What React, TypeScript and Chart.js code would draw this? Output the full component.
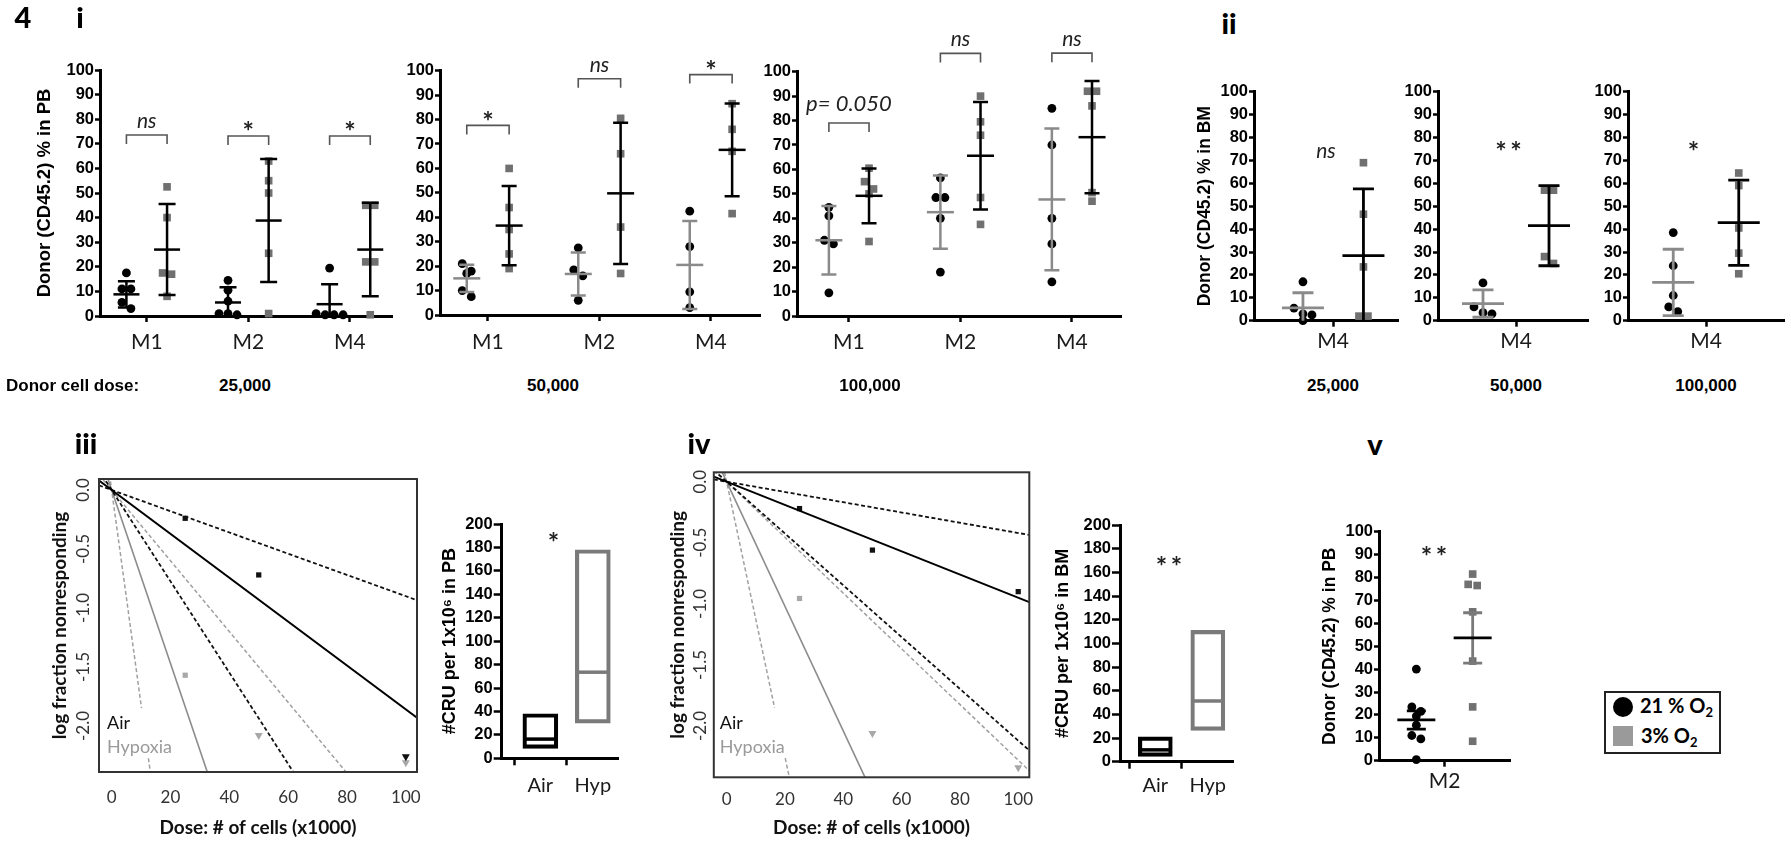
import React, { useEffect, useRef } from 'react';
import { Chart, registerables } from 'chart.js';

Chart.register(...registerables);

/* ========================= DATA ========================= */
// Panel i — Donor (CD45.2) % in PB per month, 21% O2 (circles) vs 3% O2 (squares)
const monthLabels = ['M1', 'M2', 'M4'];
const doseLabels = ['25,000', '50,000', '100,000'];

const pb25Normoxia = [[17.5, 11, 11, 5.5, 3], [14.5, 10.5, 6, 1, 1, 0.5], [19.5, 1, 0.5, 0.5, 0.5]];
const pb25Hypoxia = [[52.5, 40, 17.5, 17, 8], [63, 55, 50, 25.5, 1], [45, 45, 22, 22, 0.5]];
const pb25NormMean = [8.8, 5.5, 4.8];
const pb25NormSD = [5.3, 6.2, 8.1];
const pb25HypMean = [27, 38.8, 27];
const pb25HypSD = [18.5, 25, 19];
const pb25Sig = ['ns', '*', '*'];
const pb25SigLevel = [73.6, 73.2, 73.2];

const pb50Normoxia = [[21, 18, 17, 10, 7.5], [27.5, 18.5, 16, 6], [42.5, 28, 9.5, 3]];
const pb50Hypoxia = [[60, 44, 35, 25, 19], [80.5, 66, 36, 17], [86.5, 76, 67, 41.5]];
const pb50NormMean = [15, 16.8, 20.5];
const pb50NormSD = [5.6, 8.8, 18];
const pb50HypMean = [36.6, 49.8, 67.6];
const pb50HypSD = [16.2, 28.9, 19];
const pb50Sig = ['*', 'ns', '*'];
const pb50SigLevel = [77.6, 96.7, 98.4];

const pb100Normoxia = [[44.5, 41, 31, 29.5, 9.5], [56.5, 48.5, 48.5, 40, 18], [85, 70, 40, 29.5, 14]];
const pb100Hypoxia = [[60.5, 55, 52, 50, 30.5], [90, 79.5, 74, 48.5, 37.5], [92, 92, 86, 50.5, 47]];
const pb100NormMean = [31, 42.5, 47.7];
const pb100NormSD = [14, 15, 29];
const pb100HypMean = [49.2, 65.6, 73.2];
const pb100HypSD = [11.2, 22, 23];
const pb100Sig = ['p= 0.050', 'ns', 'ns'];
const pb100SigLevel = [79, 107.5, 107.6];

// Panel ii — Donor (CD45.2) % in BM at M4, one chart per dose
const bmMonth = ['M4'];
const bmNormoxia = [[17, 5.5, 3, 2.5, 0], [16.5, 6, 3.5, 3], [38.5, 24, 11, 6, 4]];
const bmHypoxia = [[69, 46.5, 23.5, 2, 2], [57, 57, 28, 25], [64.5, 59, 40.5, 29.5, 20.5]];
const bmNormMean = [5.6, 7.5, 16.7];
const bmNormSD = [6.6, 6, 14.5];
const bmHypMean = [28.4, 41.5, 42.8];
const bmHypSD = [29.2, 17.5, 18.6];
const bmSig = ['ns', '**', '*'];
const bmSigLevel = [74, 76.4, 76.4];

// Panels iii / iv — ELDA limiting dilution (dose in x1000 cells)
const eldaDoses = [25, 50, 100];
const eldaGroups = ['Air', 'Hypoxia'];
const eldaYTicks = [0, -0.5, -1, -1.5, -2];
const pbAirLogFrac = [-0.24, -0.72, -2.26];
const pbHypLogFrac = [-1.57, -2.08, -2.31];
const pbAirAllResponded = [false, false, true];
const pbHypAllResponded = [false, true, true];
const bmAirLogFrac = [-0.22, -0.56, -0.9];
const bmHypLogFrac = [-0.956, -2.06, -2.34];
const bmAirAllResponded = [false, false, false];
const bmHypAllResponded = [false, true, true];
// fitted CRU frequency per 1e6 cells: [estimate, lower CI, upper CI]
const pbAirFit = [18.6, 9.0, 38.7];
const pbHypFit = [73.5, 30, 182];
const bmAirFit = [9.5, 4.2, 21.2];
const bmHypFit = [51, 22.8, 112.6];

// CRU per 1x10^6 boxes: [lower, estimate, upper]
const cruGroups = ['Air', 'Hyp'];
const cruPB = [[8.5, 16.4, 38], [30, 73.5, 178]];
const cruBM = [[4.5, 10, 21], [26.5, 51.3, 111]];
const cruPBSig = '*';
const cruBMSig = '**';

// Panel v — Donor % in PB at M2 (mean ± SEM)
const vMonth = ['M2'];
const vNormoxia = [[40, 23.5, 21.5, 19.5, 15.5, 11, 9.5, 0.5]];
const vHypoxia = [[81.5, 77, 76.5, 65, 43.5, 23.5, 8.5]];
const vNormMean = [17.8];
const vNormSEM = [4];
const vHypMean = [53.6];
const vHypSEM = [11];
const vSig = '**';

const oxygenGroups = ['21 %', '3%'];

/* ========================= STYLE ========================= */
const HUM = 'Lato, "Open Sans", "DejaVu Sans", sans-serif';
const ARIALB = '"Liberation Sans", Arial, sans-serif';
const SQUARE_GREY = '#707070';
const ERR_GREY = '#8a8a8a';

type Box = {
  cl: number; ct: number; cw: number; ch: number;
  al: number; at: number; ar: number; ab: number;
  ytX?: number; ytSize?: number; xtY?: number; xtSize?: number;
};

function frameLayout(b: Box) {
  const ylh = (b.ytSize ?? 0) * 1.2;
  const padL = b.ytX !== undefined ? b.ytX - ylh / 2 - b.cl : 0;
  const yW = b.al - b.cl - padL;
  const xlh = (b.xtSize ?? 0) * 1.2;
  const bottom = b.ct + b.ch;
  const padB = b.xtY !== undefined ? bottom - (b.xtY + xlh / 2) : 0;
  const xH = bottom - padB - b.ab;
  return { padding: { left: padL, top: b.at - b.ct, right: b.cl + b.cw - b.ar, bottom: padB }, yW, xH };
}

function swarm(vals: number[], pxY: number, pxX: number, dot = 9): number[] {
  const idx = vals.map((_, i) => i).sort((a, b) => vals[b] - vals[a]);
  const out = new Array(vals.length).fill(0);
  let row: number[] = [];
  const flush = () => {
    row.forEach((i, k) => { out[i] = ((k - (row.length - 1) / 2) * dot) / pxX; });
    row = [];
  };
  for (const i of idx) {
    if (row.length && (vals[row[0]] - vals[i]) * pxY > dot * 0.9) flush();
    row.push(i);
  }
  flush();
  return out;
}

type ErrItem = { x: number; mean: number; err: number; color: string; meanColor: string; meanW: number; capW: number; lw: number };
function errorBarPlugin(items: ErrItem[]) {
  return {
    id: 'errbars',
    afterDatasetsDraw(chart: any) {
      const { ctx, scales } = chart;
      const xs = scales.x, ys = scales.y;
      ctx.save();
      ctx.lineCap = 'butt';
      for (const it of items) {
        const px = xs.getPixelForValue(it.x);
        const hiV = it.mean + it.err, loV = it.mean - it.err;
        const ph = ys.getPixelForValue(Math.min(hiV, ys.max));
        const pl = ys.getPixelForValue(Math.max(loV, ys.min));
        ctx.strokeStyle = it.color;
        ctx.lineWidth = it.lw;
        ctx.beginPath();
        ctx.moveTo(px, ph); ctx.lineTo(px, pl);
        if (hiV <= ys.max) { ctx.moveTo(px - it.capW / 2, ph); ctx.lineTo(px + it.capW / 2, ph); }
        if (loV >= ys.min) { ctx.moveTo(px - it.capW / 2, pl); ctx.lineTo(px + it.capW / 2, pl); }
        ctx.stroke();
        const pm = ys.getPixelForValue(it.mean);
        ctx.strokeStyle = it.meanColor;
        ctx.beginPath();
        ctx.moveTo(px - it.meanW / 2, pm); ctx.lineTo(px + it.meanW / 2, pm);
        ctx.stroke();
      }
      ctx.restore();
    },
  };
}

type Sig = { x?: number; x1?: number; x2?: number; y: number; label: string };
function sigPlugin(items: Sig[]) {
  return {
    id: 'sig',
    afterDraw(chart: any) {
      const { ctx, scales } = chart;
      const xs = scales.x, ys = scales.y;
      ctx.save();
      for (const it of items) {
        const py = ys.getPixelForValue(it.y);
        const star = /^\*+$/.test(it.label);
        const isP = it.label.startsWith('p');
        const size = star ? 27 : isP ? 22 : 21;
        let cx: number, cy: number;
        if (it.x1 !== undefined && it.x2 !== undefined) {
          const a = xs.getPixelForValue(it.x1), b = xs.getPixelForValue(it.x2);
          ctx.strokeStyle = '#555';
          ctx.lineWidth = 1.6;
          ctx.beginPath();
          ctx.moveTo(a, py + 9); ctx.lineTo(a, py); ctx.lineTo(b, py); ctx.lineTo(b, py + 9);
          ctx.stroke();
          cx = (a + b) / 2;
          cy = py - (star ? 10 : isP ? 19 : 14);
        } else {
          cx = xs.getPixelForValue(it.x as number);
          cy = py;
        }
        ctx.font = star ? `bold ${size}px ${HUM}` : `italic ${size}px ${HUM}`;
        ctx.fillStyle = '#222';
        ctx.textAlign = 'center';
        ctx.textBaseline = 'middle';
        const txt = star ? it.label.split('').join('\u2009') : it.label;
        ctx.fillText(txt, cx, cy + (star ? size * 0.25 : 0));
      }
      ctx.restore();
    },
  };
}

function baseOptions(padding: any) {
  return {
    animation: false,
    responsive: false,
    events: [],
    layout: { padding },
    plugins: { legend: { display: false }, tooltip: { enabled: false } },
  };
}

type DotOpts = {
  box: Box; xMin: number; xMax: number; cats: string[]; off: number;
  norm: number[][]; hyp: number[][];
  normMean: number[]; normErr: number[]; hypMean: number[]; hypErr: number[];
  normErrColor: string; normMeanColor: string; hypErrColor: string; hypMeanColor: string;
  meanW: number; capW: number; lw: number;
  yTitle?: string; xPad: number; sig: Sig[];
};

function dotPlot(o: DotOpts) {
  const L = frameLayout(o.box);
  const pxX = (o.box.ar - o.box.al) / (o.xMax - o.xMin);
  const pxY = (o.box.ab - o.box.at) / 100;
  const pts = (groups: number[][], sign: number) =>
    groups.flatMap((vals, ci) => {
      const offs = swarm(vals, pxY, pxX, 9);
      return vals.map((v, k) => ({ x: ci + 1 + sign * o.off + offs[k], y: v }));
    });
  const errItems: ErrItem[] = o.cats.flatMap((_, i) => [
    { x: i + 1 - o.off, mean: o.normMean[i], err: o.normErr[i], color: o.normErrColor, meanColor: o.normMeanColor, meanW: o.meanW, capW: o.capW, lw: o.lw },
    { x: i + 1 + o.off, mean: o.hypMean[i], err: o.hypErr[i], color: o.hypErrColor, meanColor: o.hypMeanColor, meanW: o.meanW, capW: o.capW, lw: o.lw },
  ]);
  const axisGrid = (len: number) => ({
    display: true, drawOnChartArea: false, drawTicks: true, tickLength: len, tickWidth: 2.5, tickColor: '#000',
  });
  return {
    type: 'scatter',
    data: {
      datasets: [
        { data: pts(o.norm, -1), pointStyle: 'circle', pointRadius: 4.4, pointBackgroundColor: '#000', backgroundColor: '#000', pointBorderWidth: 0, borderWidth: 0, clip: false },
        { data: pts(o.hyp, 1), pointStyle: 'rect', pointRadius: 5.4, pointBackgroundColor: SQUARE_GREY, backgroundColor: SQUARE_GREY, pointBorderWidth: 0, borderWidth: 0, clip: false },
      ],
    },
    options: {
      ...baseOptions(L.padding),
      scales: {
        x: {
          type: 'linear', min: o.xMin, max: o.xMax,
          afterBuildTicks: (s: any) => { s.ticks = o.cats.map((_, i) => ({ value: i + 1 })); },
          afterFit: (s: any) => { s.height = L.xH; },
          ticks: { callback: (v: any) => o.cats[Math.round(v) - 1] ?? '', font: { family: HUM, size: 21 }, color: '#1a1a1a', padding: o.xPad, autoSkip: false, maxRotation: 0 },
          grid: axisGrid(6),
          border: { display: true, color: '#000', width: 3 },
        },
        y: {
          type: 'linear', min: 0, max: 100,
          afterFit: (s: any) => { s.width = L.yW; },
          ticks: { stepSize: 10, autoSkip: false, font: { family: ARIALB, size: 16.5, weight: 'bold' }, color: '#000', padding: 1 },
          grid: axisGrid(5),
          border: { display: true, color: '#000', width: 3 },
          title: o.yTitle
            ? { display: true, text: o.yTitle, font: { family: ARIALB, size: o.box.ytSize, weight: 'bold' }, color: '#000', padding: 0 }
            : { display: false },
        },
      },
    },
    plugins: [errorBarPlugin(errItems), sigPlugin(o.sig)],
  };
}

type EldaOpts = {
  box: Box; xMin: number; xMax: number; yMin: number; yMax: number;
  airFit: number[]; hypFit: number[];
  airPts: number[]; hypPts: number[]; airAll: boolean[]; hypAll: boolean[];
  xPad: number; yLabelDx: number; legDx: number; airDy: number; hypDy: number;
};

function eldaPlot(o: EldaOpts) {
  const L = frameLayout(o.box);
  const line = (f: number, color: string, w: number, dash: number[]) => ({
    type: 'line',
    data: [o.xMin, o.xMax].map((x) => ({ x, y: (-f * x) / 1000 })),
    borderColor: color, borderWidth: w, borderDash: dash, pointRadius: 0, tension: 0, fill: false,
  });
  const pts = (vals: number[], all: boolean[], color: string) => ({
    type: 'scatter',
    data: eldaDoses.map((d, i) => ({ x: d, y: vals[i] })),
    pointStyle: all.map((a) => (a ? 'triangle' : 'rect')),
    pointRotation: all.map((a) => (a ? 180 : 0)),
    pointRadius: all.map((a) => (a ? 4.6 : 3.7)),
    pointBackgroundColor: color, backgroundColor: color, pointBorderWidth: 0, borderWidth: 0, clip: false,
  });
  const dash = [4, 2.5];
  const decor = {
    id: 'eldaDecor',
    afterDatasetsDraw(chart: any) {
      const { ctx, chartArea: a } = chart;
      const yA = a.bottom - o.airDy, yH = a.bottom - o.hypDy;
      ctx.save();
      ctx.fillStyle = '#fff';
      ctx.fillRect(a.left + 1.5, yA - 15, 75, yH - yA + 26);
      ctx.font = `18px ${HUM}`;
      ctx.textAlign = 'left';
      ctx.textBaseline = 'middle';
      ctx.fillStyle = '#111';
      ctx.fillText(eldaGroups[0], a.left + o.legDx, yA);
      ctx.fillStyle = '#9a9a9a';
      ctx.fillText(eldaGroups[1], a.left + o.legDx, yH);
      ctx.restore();
    },
    afterDraw(chart: any) {
      const { ctx, chartArea: a, scales } = chart;
      ctx.save();
      ctx.strokeStyle = '#333';
      ctx.lineWidth = 2;
      ctx.strokeRect(a.left, a.top, a.right - a.left, a.bottom - a.top);
      ctx.font = `17px ${HUM}`;
      ctx.fillStyle = '#333';
      ctx.textAlign = 'center';
      ctx.textBaseline = 'middle';
      for (const v of eldaYTicks) {
        const py = scales.y.getPixelForValue(v);
        ctx.save();
        ctx.translate(a.left - o.yLabelDx, py);
        ctx.rotate(-Math.PI / 2);
        ctx.fillText(v.toFixed(1), 0, 0);
        ctx.restore();
      }
      ctx.restore();
    },
  };
  return {
    type: 'scatter',
    data: {
      datasets: [
        line(o.airFit[0], '#000', 2, []),
        line(o.airFit[1], '#111', 1.8, dash),
        line(o.airFit[2], '#111', 1.8, dash),
        line(o.hypFit[0], '#8c8c8c', 1.6, []),
        line(o.hypFit[1], '#a0a0a0', 1.5, dash),
        line(o.hypFit[2], '#a0a0a0', 1.5, dash),
        pts(o.airPts, o.airAll, '#111'),
        pts(o.hypPts, o.hypAll, '#a8a8a8'),
      ],
    },
    options: {
      ...baseOptions(L.padding),
      scales: {
        x: {
          type: 'linear', min: o.xMin, max: o.xMax,
          afterFit: (s: any) => { s.height = L.xH; },
          ticks: { stepSize: 20, includeBounds: false, font: { family: HUM, size: 17 }, color: '#333', padding: o.xPad, maxRotation: 0 },
          grid: { display: false },
          border: { display: false },
          title: { display: true, text: 'Dose: # of cells (x1000)', font: { family: HUM, size: 19, weight: 'bold' }, color: '#111', padding: 0 },
        },
        y: {
          type: 'linear', min: o.yMin, max: o.yMax,
          afterFit: (s: any) => { s.width = L.yW; },
          ticks: { display: false, includeBounds: false },
          grid: { display: false },
          border: { display: false },
          title: { display: true, text: 'log fraction nonresponding', font: { family: HUM, size: 19, weight: 'bold' }, color: '#111', padding: 0 },
        },
      },
    },
    plugins: [decor],
  };
}

type CruOpts = { box: Box; xMin: number; xMax: number; vals: number[][]; yTitle: string; sig: Sig[]; xPad: number; barW: number };

function cruPlot(o: CruOpts) {
  const L = frameLayout(o.box);
  const colors = ['#000', '#7a7a7a'];
  const axisGrid = (len: number) => ({
    display: true, drawOnChartArea: false, drawTicks: true, tickLength: len, tickWidth: 2.5, tickColor: '#000',
  });
  return {
    type: 'bar',
    data: {
      datasets: [
        {
          type: 'bar',
          data: o.vals.map((v, i) => ({ x: i + 1, y: [v[0], v[2]] })),
          backgroundColor: 'rgba(255,255,255,0)', borderColor: colors, borderWidth: 3.5, borderSkipped: false, barThickness: o.barW,
        },
        {
          type: 'line',
          data: o.vals.map((v, i) => ({ x: i + 1, y: v[1] })),
          showLine: false, pointStyle: 'line', pointRadius: o.barW / 2 - 2, pointBorderColor: colors, pointBorderWidth: 3.5, clip: false,
        },
      ],
    },
    options: {
      ...baseOptions(L.padding),
      scales: {
        x: {
          type: 'linear', offset: false, min: o.xMin, max: o.xMax,
          afterBuildTicks: (s: any) => { s.ticks = cruGroups.map((_, i) => ({ value: i + 1 })); },
          afterFit: (s: any) => { s.height = L.xH; },
          ticks: { callback: (v: any) => cruGroups[Math.round(v) - 1] ?? '', font: { family: HUM, size: 20 }, color: '#1a1a1a', padding: o.xPad, autoSkip: false, maxRotation: 0 },
          grid: axisGrid(7),
          border: { display: true, color: '#000', width: 3 },
        },
        y: {
          type: 'linear', min: 0, max: 200,
          afterFit: (s: any) => { s.width = L.yW; },
          ticks: { stepSize: 20, autoSkip: false, font: { family: ARIALB, size: 16.5, weight: 'bold' }, color: '#000', padding: 1 },
          grid: axisGrid(8),
          border: { display: true, color: '#000', width: 3 },
          title: { display: true, text: o.yTitle, font: { family: ARIALB, size: o.box.ytSize, weight: 'bold' }, color: '#000', padding: 0 },
        },
      },
    },
    plugins: [sigPlugin(o.sig)],
  };
}

/* ========================= LAYOUT ========================= */
const boxI1: Box = { cl: 0, ct: 0, cw: 398, ch: 372, al: 100, at: 70, ar: 393, ab: 316, ytX: 45, ytSize: 18.5 };
const boxI2: Box = { cl: 400, ct: 0, cw: 370, ch: 372, al: 440, at: 70.7, ar: 760, ab: 315 };
const boxI3: Box = { cl: 762, ct: 0, cw: 372, ch: 372, al: 797, at: 71.7, ar: 1121, ab: 316 };
const boxII1: Box = { cl: 1180, ct: 40, cw: 225, ch: 332, al: 1254, at: 91.7, ar: 1398, ab: 320.7, ytX: 1205, ytSize: 17.5 };
const boxII2: Box = { cl: 1405, ct: 40, cw: 190, ch: 332, al: 1438, at: 91.7, ar: 1588, ab: 320.7 };
const boxII3: Box = { cl: 1595, ct: 40, cw: 196, ch: 332, al: 1628, at: 91.7, ar: 1784, ab: 320.7 };
const boxIII: Box = { cl: 0, ct: 455, cw: 430, ch: 393, al: 99, at: 479, ar: 417, ab: 772, ytX: 60, ytSize: 19, xtY: 828, xtSize: 19 };
const boxIIIc: Box = { cl: 432, ct: 505, cw: 205, ch: 310, al: 501.7, at: 522.7, ar: 625, ab: 758.3, ytX: 450, ytSize: 18 };
const boxIV: Box = { cl: 640, ct: 450, cw: 400, ch: 398, al: 713.8, at: 472.3, ar: 1029.3, ab: 777.3, ytX: 678, ytSize: 19, xtY: 828, xtSize: 19 };
const boxIVc: Box = { cl: 1042, ct: 505, cw: 210, ch: 310, al: 1120, at: 525, ar: 1240, ab: 761.7, ytX: 1063, ytSize: 18 };
const boxV: Box = { cl: 1305, ct: 500, cw: 215, ch: 320, al: 1379, at: 531.7, ar: 1510, ab: 760.7, ytX: 1330, ytSize: 17.5 };

const bracketSig = (labels: string[], levels: number[], off: number): Sig[] =>
  labels.map((label, i) => ({ x1: i + 1 - off, x2: i + 1 + off, y: levels[i], label }));

type Spec = { key: string; box: Box; make: () => any };

const specs: Spec[] = [
  {
    key: 'i1', box: boxI1,
    make: () => dotPlot({
      box: boxI1, xMin: 0.54, xMax: 3.42, cats: monthLabels, off: 0.2,
      norm: pb25Normoxia, hyp: pb25Hypoxia, normMean: pb25NormMean, normErr: pb25NormSD, hypMean: pb25HypMean, hypErr: pb25HypSD,
      normErrColor: '#000', normMeanColor: '#000', hypErrColor: '#000', hypMeanColor: '#000',
      meanW: 26, capW: 17, lw: 2.5, yTitle: 'Donor (CD45.2) % in PB', xPad: 8,
      sig: bracketSig(pb25Sig, pb25SigLevel, 0.2),
    }),
  },
  {
    key: 'i2', box: boxI2,
    make: () => dotPlot({
      box: boxI2, xMin: 0.57, xMax: 3.44, cats: monthLabels, off: 0.19,
      norm: pb50Normoxia, hyp: pb50Hypoxia, normMean: pb50NormMean, normErr: pb50NormSD, hypMean: pb50HypMean, hypErr: pb50HypSD,
      normErrColor: ERR_GREY, normMeanColor: ERR_GREY, hypErrColor: '#000', hypMeanColor: '#000',
      meanW: 27, capW: 15, lw: 2.5, xPad: 8.5,
      sig: bracketSig(pb50Sig, pb50SigLevel, 0.19),
    }),
  },
  {
    key: 'i3', box: boxI3,
    make: () => dotPlot({
      box: boxI3, xMin: 0.534, xMax: 3.44, cats: monthLabels, off: 0.18,
      norm: pb100Normoxia, hyp: pb100Hypoxia, normMean: pb100NormMean, normErr: pb100NormSD, hypMean: pb100HypMean, hypErr: pb100HypSD,
      normErrColor: ERR_GREY, normMeanColor: ERR_GREY, hypErrColor: '#000', hypMeanColor: '#000',
      meanW: 27, capW: 15, lw: 2.5, xPad: 8,
      sig: bracketSig(pb100Sig, pb100SigLevel, 0.18),
    }),
  },
  ...[boxII1, boxII2, boxII3].map((box, d) => ({
    key: 'ii' + d, box,
    make: () => dotPlot({
      box, xMin: [0.45, 0.48, 0.5][d], xMax: [1.45, 1.48, 1.5][d], cats: bmMonth, off: [0.21, 0.22, 0.21][d],
      norm: [bmNormoxia[d]], hyp: [bmHypoxia[d]], normMean: [bmNormMean[d]], normErr: [bmNormSD[d]], hypMean: [bmHypMean[d]], hypErr: [bmHypSD[d]],
      normErrColor: ERR_GREY, normMeanColor: ERR_GREY, hypErrColor: '#000', hypMeanColor: '#000',
      meanW: 42, capW: 21, lw: 2.8, yTitle: d === 0 ? 'Donor (CD45.2) % in BM' : undefined, xPad: 2.4,
      sig: [{ x: [0.95, 0.95, 0.92][d], y: bmSigLevel[d], label: bmSig[d] }],
    }),
  })),
  {
    key: 'iii', box: boxIII,
    make: () => eldaPlot({
      box: boxIII, xMin: -4.3, xMax: 103.8, yMin: -2.39, yMax: 0.093,
      airFit: pbAirFit, hypFit: pbHypFit, airPts: pbAirLogFrac, hypPts: pbHypLogFrac,
      airAll: pbAirAllResponded, hypAll: pbHypAllResponded,
      xPad: 7.8, yLabelDx: 15.7, legDx: 8, airDy: 49, hypDy: 25,
    }),
  },
  {
    key: 'iiic', box: boxIIIc,
    make: () => cruPlot({
      box: boxIIIc, xMin: 0.263, xMax: 2.48, vals: cruPB, yTitle: '#CRU per 1x10⁶ in PB',
      sig: [{ x: 1.25, y: 189.5, label: cruPBSig }], xPad: 8, barW: 35,
    }),
  },
  {
    key: 'iv', box: boxIV,
    make: () => eldaPlot({
      box: boxIV, xMin: -4.4, xMax: 103.8, yMin: -2.42, yMax: 0.077,
      airFit: bmAirFit, hypFit: bmHypFit, airPts: bmAirLogFrac, hypPts: bmHypLogFrac,
      airAll: bmAirAllResponded, hypAll: bmHypAllResponded,
      xPad: 4.2, yLabelDx: 13.1, legDx: 6, airDy: 54.6, hypDy: 30.6,
    }),
  },
  {
    key: 'ivc', box: boxIVc,
    make: () => cruPlot({
      box: boxIVc, xMin: 0.327, xMax: 2.49, vals: cruBM, yTitle: '#CRU per 1x10⁶ in BM',
      sig: [{ x: 1.26, y: 170, label: cruBMSig }], xPad: 4.5, barW: 34,
    }),
  },
  {
    key: 'v', box: boxV,
    make: () => dotPlot({
      box: boxV, xMin: 0.5, xMax: 1.5, cats: vMonth, off: 0.215,
      norm: vNormoxia, hyp: vHypoxia, normMean: vNormMean, normErr: vNormSEM, hypMean: vHypMean, hypErr: vHypSEM,
      normErrColor: '#000', normMeanColor: '#000', hypErrColor: '#7a7a7a', hypMeanColor: '#000',
      meanW: 38, capW: 19, lw: 2.8, yTitle: 'Donor (CD45.2) % in PB', xPad: 1.7,
      sig: [{ x: 0.92, y: 91.7, label: vSig }],
    }),
  },
];

/* ========================= COMPONENTS ========================= */
function ChartCanvas({ spec }: { spec: Spec }) {
  const ref = useRef<HTMLCanvasElement | null>(null);
  useEffect(() => {
    if (!ref.current) return;
    const chart = new Chart(ref.current, spec.make());
    return () => chart.destroy();
  }, []);
  const b = spec.box;
  return (
    <canvas
      ref={ref}
      width={b.cw}
      height={b.ch}
      style={{ position: 'absolute', left: b.cl, top: b.ct, width: b.cw, height: b.ch }}
    />
  );
}

function Txt(props: { x: number; y: number; size: number; children: any; weight?: string; family?: string; align?: string; color?: string }) {
  const { x, y, size, children, weight = 'normal', family = HUM, align = 'center', color = '#000' } = props;
  const tx = align === 'center' ? '-50%' : align === 'right' ? '-100%' : '0';
  return (
    <div
      style={{
        position: 'absolute', left: x, top: y, transform: `translate(${tx}, -50%)`,
        fontFamily: family, fontSize: size, fontWeight: weight as any, color, lineHeight: 1, whiteSpace: 'nowrap',
      }}
    >
      {children}
    </div>
  );
}

const panelLabels: [string, number, number][] = [
  ['4', 23, 16], ['i', 80, 16], ['ii', 1229, 22], ['iii', 86, 442], ['iv', 699, 442], ['v', 1375, 443],
];
const doseLabelX = [245, 553, 870, 1333, 1516, 1706];

export default function App() {
  return (
    <div style={{ position: 'absolute', left: 0, top: 0, width: 1791, height: 848, background: '#fff', overflow: 'hidden' }}>
      {specs.map((s) => <ChartCanvas key={s.key} spec={s} />)}
      {panelLabels.map(([t, x, y]) => (
        <Txt key={t} x={x} y={y} size={29} weight="900">{t}</Txt>
      ))}
      <Txt x={6} y={385} size={17} weight="bold" family={ARIALB} align="left">Donor cell dose:</Txt>
      {doseLabelX.map((x, i) => (
        <Txt key={'d' + i} x={x} y={385} size={17} weight="bold" family={ARIALB}>{doseLabels[i % 3]}</Txt>
      ))}
      <div style={{ position: 'absolute', left: 1604, top: 691, width: 117, height: 63, border: '2px solid #222', boxSizing: 'border-box', background: '#fff' }}>
        <div style={{ position: 'absolute', left: 7, top: 4, width: 20, height: 20, borderRadius: '50%', background: '#000' }} />
        <div style={{ position: 'absolute', left: 34, top: 14, transform: 'translateY(-50%)', fontFamily: HUM, fontWeight: 'bold', fontSize: 20, lineHeight: 1, whiteSpace: 'nowrap' }}>
          {oxygenGroups[0]} O<sub style={{ fontSize: 13, verticalAlign: -4 }}>2</sub>
        </div>
        <div style={{ position: 'absolute', left: 7, top: 33, width: 20, height: 20, background: '#9a9a9a' }} />
        <div style={{ position: 'absolute', left: 35, top: 44, transform: 'translateY(-50%)', fontFamily: HUM, fontWeight: 'bold', fontSize: 20, lineHeight: 1, whiteSpace: 'nowrap' }}>
          {oxygenGroups[1]} O<sub style={{ fontSize: 13, verticalAlign: -4 }}>2</sub>
        </div>
      </div>
    </div>
  );
}
